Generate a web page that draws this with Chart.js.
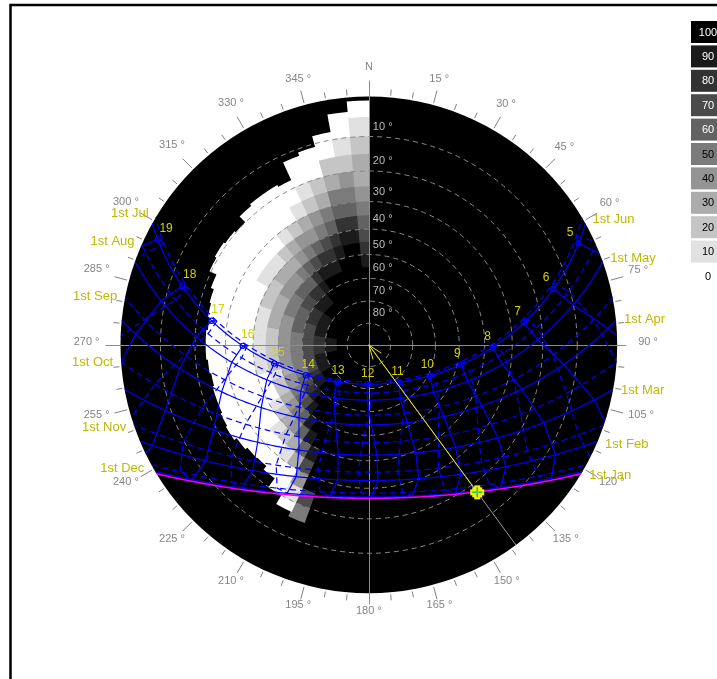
<!DOCTYPE html>
<html>
<head>
<meta charset="utf-8">
<script src="https://cdn.jsdelivr.net/npm/chart.js@4/dist/chart.umd.min.js"></script>
<style>
  html, body { margin: 0; padding: 0; background: #fff; overflow: hidden; }
  canvas { display: block; }
</style>
</head>
<body>
<canvas id="sunpath" width="717" height="679"></canvas>
<script>
// ---- Site and sun-path data ----
const latitude = 40;
const monthLabels = ['1st Jan', '1st Feb', '1st Mar', '1st Apr', '1st May', '1st Jun',
                     '1st Jul', '1st Aug', '1st Sep', '1st Oct', '1st Nov', '1st Dec'];
// solar declination (deg) and equation of time (min) on the 1st of each month
const monthDeclination = [-23.0, -17.3, -7.9, 4.3, 14.9, 22.0, 23.1, 18.1, 8.4, -3.0, -14.3, -21.7];
const monthEquationOfTime = [-3.2, -13.6, -12.5, -4.1, 2.9, 2.2, -3.7, -6.3, -0.2, 10.1, 16.4, 11.0];
const currentDeclination = -23.44;          // today's path (magenta)
const hourMarks = [5, 6, 7, 8, 9, 10, 11, 12, 13, 14, 15, 16, 17, 18, 19];
const sunAzimuth = 143.7;                   // current sun position
const sunAltitude = 17.2;

// ---- Grid ----
const altitudeRings = [10, 20, 30, 40, 50, 60, 70, 80];
const azimuthTickLabels = [15, 30, 45, 60, 75, 90, 105, 120, 135, 150, 165, 180,
                           195, 210, 225, 240, 255, 270, 285, 300, 315, 330, 345];

// ---- Shading legend ----
const legendValues = [100, 90, 80, 70, 60, 50, 40, 30, 20, 10, 0];
const legendColors = ['#000000', '#1b1b1b', '#333333', '#4b4b4b', '#626262', '#7b7b7b',
                      '#949494', '#acacac', '#c5c5c5', '#e1e1e1', '#ffffff'];

// ---- Shading mask: 5 deg azimuth bins, 5 deg altitude bins (0..90) ----
// digit = shading / 10, X = fully shaded; maskFloor = altitude below which all is shaded
const maskAzimuths = [200, 205, 210, 215, 220, 225, 230, 235, 240, 245, 250, 255, 260, 265, 270, 275,
                      280, 285, 290, 295, 300, 305, 310, 315, 320, 325, 330, 335, 340, 345, 350, 355];
const maskFloor = [15.5, 17, 20, 23.5, 25, 24.8, 24, 23, 23.5, 24, 24, 24.5, 24, 23.5, 23.5, 24,
                   23.5, 23, 22, 19.6, 19, 19.5, 20, 17.6, 17, 17, 17.6, 12, 11, 8, 3.5, 1];
const maskRows = [
  'XXX57XXXXXXXXXXXXX',
  'XXX01479XXXXXXXXXX',
  'XXXX00369XXXXXXXXX',
  'XXXX001369XXXXXXXX',
  'XXXXX002469XXXXXXX',
  'XXXX00013579XXXXXX',
  'XXXX000024689XXXXX',
  'XXXX000013579XXXXX',
  'XXXX0000024689XXXX',
  'XXXX0000024579XXXX',
  'XXXX0000013579XXXX',
  'XXXX0000124579XXXX',
  'XXXX00001245789XXX',
  'XXXX00001245789XXX',
  'XXXX00001245789XXX',
  'XXXX00001245789XXX',
  'XXXX0000134679XXXX',
  'XXXX0000134679XXXX',
  'XXXX0000235689XXXX',
  'XXX00000235689XXXX',
  'XXX00001245789XXXX',
  'XXX0000134679XXXXX',
  'XXXX000134689XXXXX',
  'XXX0000235689XXXXX',
  'XXX000134689XXXXXX',
  'XXX00024579XXXXXXX',
  'XXX00134689XXXXXXX',
  'XX001245789XXXXXXX',
  'XX00235689XXXXXXXX',
  'X00235689XXXXXXXXX',
  '001245689XXXXXXXXX',
  '01233456789XXXXXXX'
];

// ---- Layout ----
const W = 717, H = 679;
const CX = 369, CY = 345, RADIUS = 252;     // horizon circle in pixels
const D = Math.PI / 180;
const LABEL_FONT = '11px "Liberation Sans", Arial, sans-serif';
const MONTH_FONT = '13px "Liberation Sans", Arial, sans-serif';
const HOUR_FONT = '12px "Liberation Sans", Arial, sans-serif';

// stereographic sky projection, horizon = 1
function skyPoint(az, alt) {
  const k = Math.tan((90 - alt) / 2 * D);
  return { x: k * Math.sin(az * D), y: k * Math.cos(az * D) };
}
// sun position for declination dec and hour angle ha (deg), projected
function sunPoint(dec, ha) {
  const p = latitude * D, d = dec * D, h = ha * D;
  const e = -Math.cos(d) * Math.sin(h);
  const n = Math.sin(d) * Math.cos(p) - Math.cos(d) * Math.cos(h) * Math.sin(p);
  const u = Math.sin(d) * Math.sin(p) + Math.cos(d) * Math.cos(h) * Math.cos(p);
  return { x: e / (1 + u), y: n / (1 + u), u: u };
}
function dayPath(dec) {
  const pts = [];
  for (let ha = -180; ha <= 180; ha += 1) {
    const s = sunPoint(dec, ha);
    if (s.u > -0.3) pts.push({ x: s.x, y: s.y });
  }
  return pts;
}
function hourPoint(hour, m) {
  const ha = 15 * (hour - 12) + monthEquationOfTime[m] / 4;
  return sunPoint(monthDeclination[m], ha);
}
function hourPath(hour, months) {
  const pts = [];
  months.forEach(m => {
    const s = hourPoint(hour, m);
    if (s.u > -0.8) pts.push({ x: s.x, y: s.y });
  });
  return pts;
}
function lineSet(data, color, dash, width) {
  return { data, showLine: true, borderColor: color, borderWidth: width, borderDash: dash,
           pointRadius: 0, tension: 0, fill: false };
}

const datasets = [];
datasets.push(lineSet(dayPath(currentDeclination), '#f000e8', [], 1.6));
// hour markers on the 1st of June path
const juneIndex = 5;
datasets.push({
  data: hourMarks.map(h => { const s = hourPoint(h, juneIndex); return { x: s.x, y: s.y }; }),
  showLine: false, pointRadius: 2.6, pointStyle: 'circle', borderColor: '#0000ff',
  borderWidth: 1.2, backgroundColor: 'rgba(0,0,0,0)'
});
monthDeclination.forEach((dec, i) => {
  datasets.push(lineSet(dayPath(dec), '#0000ff', i < 6 ? [] : [6, 4], 1.2));
});
hourMarks.forEach(h => {
  datasets.push(lineSet(hourPath(h, [0, 1, 2, 3, 4, 5, 6]), '#0000ff', [], 1.2));
  datasets.push(lineSet(hourPath(h, [6, 7, 8, 9, 10, 11, 0]), '#0000ff', [6, 4], 1.2));
});

function geom(chart) {
  const xs = chart.scales.x, ys = chart.scales.y;
  const cx = xs.getPixelForValue(0), cy = ys.getPixelForValue(0);
  const r = xs.getPixelForValue(1) - cx;
  const px = p => ({ x: xs.getPixelForValue(p.x), y: ys.getPixelForValue(p.y) });
  const rad = alt => xs.getPixelForValue(Math.tan((90 - alt) / 2 * D)) - cx;
  return { cx, cy, r, px, rad };
}
function colorFor(v) {
  return legendColors[legendValues.indexOf(v)];
}

const skyPlugin = {
  id: 'sky',
  beforeDraw(chart) {
    const ctx = chart.ctx;
    const g = geom(chart);
    ctx.save();
    ctx.fillStyle = '#ffffff';
    ctx.fillRect(0, 0, W, H);
    // frame
    ctx.strokeStyle = '#000';
    ctx.lineWidth = 2.5;
    ctx.beginPath();
    ctx.moveTo(10.5, H + 5); ctx.lineTo(10.5, 5); ctx.lineTo(W + 5, 5);
    ctx.stroke();

    // sky disc (fully shaded background)
    ctx.fillStyle = '#000';
    ctx.beginPath(); ctx.arc(g.cx, g.cy, g.r, 0, 2 * Math.PI); ctx.fill();

    // shading mask cells (slightly overlapped so no seams show)
    ctx.save();
    ctx.beginPath(); ctx.arc(g.cx, g.cy, g.r, 0, 2 * Math.PI); ctx.clip();
    const eps = 0.2 * D;
    maskAzimuths.forEach((az0, i) => {
      const row = maskRows[i];
      const a0 = (az0 - 90) * D - eps, a1 = (az0 + 5 - 90) * D + eps;
      for (let j = 0; j < row.length; j++) {
        const ch = row[j];
        if (ch === 'X') continue;
        const lo = Math.max(j * 5, maskFloor[i]), hi = j * 5 + 5;
        if (hi <= lo) continue;
        const rOut = g.rad(lo) + 0.4, rIn = Math.max(0, g.rad(hi) - 0.4);
        ctx.beginPath();
        ctx.arc(g.cx, g.cy, rOut, a0, a1);
        ctx.arc(g.cx, g.cy, rIn, a1, a0, true);
        ctx.closePath();
        ctx.fillStyle = colorFor(parseInt(ch, 10) * 10);
        ctx.fill();
      }
    });
    ctx.restore();

    // altitude rings
    ctx.strokeStyle = '#8a8a8a';
    ctx.lineWidth = 1;
    ctx.setLineDash([5, 4]);
    altitudeRings.forEach(alt => {
      ctx.beginPath(); ctx.arc(g.cx, g.cy, g.rad(alt), 0, 2 * Math.PI); ctx.stroke();
    });
    ctx.setLineDash([]);

    // compass cross
    ctx.strokeStyle = '#8c8c8c';
    ctx.lineWidth = 1;
    ctx.beginPath();
    ctx.moveTo(Math.round(g.cx) + 0.5, g.cy - g.r - 16); ctx.lineTo(Math.round(g.cx) + 0.5, g.cy + g.r + 11);
    ctx.moveTo(g.cx - g.r - 15, Math.round(g.cy) + 0.5); ctx.lineTo(g.cx + g.r + 9, Math.round(g.cy) + 0.5);
    ctx.stroke();

    // azimuth ticks
    ctx.strokeStyle = '#808080';
    for (let az = 5; az < 360; az += 5) {
      if (az % 90 === 0) continue;
      const long = az % 15 === 0;
      const r0 = g.r + 2, r1 = g.r + (long ? 15 : 8);
      const s = Math.sin(az * D), c = Math.cos(az * D);
      ctx.beginPath();
      ctx.moveTo(g.cx + r0 * s, g.cy - r0 * c);
      ctx.lineTo(g.cx + r1 * s, g.cy - r1 * c);
      ctx.stroke();
    }
    // azimuth labels
    ctx.font = LABEL_FONT;
    ctx.fillStyle = '#858585';
    ctx.textAlign = 'center';
    ctx.textBaseline = 'middle';
    azimuthTickLabels.forEach(az => {
      const txt = az + ' °';
      const hw = ctx.measureText(txt).width / 2;
      const s = Math.sin(az * D), c = Math.cos(az * D);
      const rr = g.r + 21 + hw * Math.abs(s);
      ctx.fillText(txt, g.cx + rr * s, g.cy - rr * c - 3);
    });
    ctx.fillText('N', g.cx, g.cy - g.r - 30);

    // altitude labels
    ctx.fillStyle = '#bdbdbd';
    ctx.textAlign = 'left';
    altitudeRings.forEach(alt => {
      ctx.fillText(alt + ' °', g.cx + 4, g.cy - g.rad(alt) - 10);
    });

    // current sun azimuth line
    const hz = g.px(skyPoint(sunAzimuth, 0));
    ctx.strokeStyle = '#9a9a9a';
    ctx.beginPath(); ctx.moveTo(g.cx, g.cy); ctx.lineTo(hz.x, hz.y); ctx.stroke();
    ctx.restore();
  },
  beforeDatasetsDraw(chart) {
    const g = geom(chart);
    chart.ctx.save();
    chart.ctx.beginPath();
    chart.ctx.arc(g.cx, g.cy, g.r, 0, 2 * Math.PI);
    chart.ctx.clip();
  },
  afterDatasetsDraw(chart) {
    const ctx = chart.ctx;
    ctx.restore();
    const g = geom(chart);
    ctx.save();

    // hour labels beside the June markers
    ctx.font = HOUR_FONT;
    ctx.fillStyle = '#d2d200';
    ctx.textAlign = 'center';
    ctx.textBaseline = 'middle';
    hourMarks.forEach(h => {
      const p = g.px(hourPoint(h, juneIndex));
      ctx.fillText(String(h), p.x - 0.04 * (p.x - g.cx), p.y - 11);
    });

    // month labels at sunrise (Jan-Jun) / sunset (Jul-Dec)
    ctx.font = MONTH_FONT;
    ctx.fillStyle = '#bdb800';
    monthDeclination.forEach((dec, i) => {
      const c = Math.sin(dec * D) / Math.cos(latitude * D);
      let az = Math.acos(Math.max(-1, Math.min(1, c))) / D;
      if (i >= 6) az = 360 - az;
      const rr = g.r + 8;
      ctx.textAlign = i < 6 ? 'left' : 'right';
      ctx.fillText(monthLabels[i], g.cx + rr * Math.sin(az * D), g.cy - rr * Math.cos(az * D));
    });

    // arrow from the sun to the zenith
    const sp = g.px(skyPoint(sunAzimuth, sunAltitude));
    ctx.strokeStyle = '#e8e800';
    ctx.lineWidth = 1;
    ctx.beginPath(); ctx.moveTo(sp.x, sp.y); ctx.lineTo(g.cx, g.cy); ctx.stroke();
    const ang = Math.atan2(sp.y - g.cy, sp.x - g.cx);
    ctx.beginPath();
    [-0.35, 0.35].forEach(da => {
      ctx.moveTo(g.cx, g.cy);
      ctx.lineTo(g.cx + 15 * Math.cos(ang + da), g.cy + 15 * Math.sin(ang + da));
    });
    ctx.stroke();

    // sun marker
    ctx.fillStyle = '#f0f000';
    ctx.fillRect(sp.x - 3, sp.y - 7, 6, 14);
    ctx.fillRect(sp.x - 7, sp.y - 3, 14, 6);
    ctx.fillRect(sp.x - 5, sp.y - 5, 10, 10);
    ctx.strokeStyle = '#20c040';
    ctx.lineWidth = 1.5;
    ctx.beginPath();
    ctx.moveTo(sp.x - 5, sp.y); ctx.lineTo(sp.x + 5, sp.y);
    ctx.moveTo(sp.x, sp.y - 5); ctx.lineTo(sp.x, sp.y + 5);
    ctx.stroke();
    ctx.fillStyle = '#40d0d0';
    ctx.fillRect(sp.x - 1, sp.y - 1, 2, 2);

    // shading legend
    ctx.font = LABEL_FONT;
    ctx.textAlign = 'center';
    legendValues.forEach((v, i) => {
      const top = 21 + i * 24.4;
      if (v > 0) {
        ctx.fillStyle = colorFor(v);
        ctx.fillRect(691, top, 40, 22);
      }
      ctx.fillStyle = v >= 60 ? '#ffffff' : '#000000';
      ctx.fillText(String(v), 708, top + 11.5);
    });
    ctx.restore();
  }
};

new Chart(document.getElementById('sunpath'), {
  type: 'scatter',
  data: { datasets },
  options: {
    responsive: false,
    animation: false,
    devicePixelRatio: 1,
    layout: { padding: 0 },
    plugins: { legend: { display: false }, tooltip: { enabled: false }, title: { display: false } },
    scales: {
      x: { type: 'linear', display: false, min: -CX / RADIUS, max: (W - CX) / RADIUS },
      y: { type: 'linear', display: false, min: -(H - CY) / RADIUS, max: CY / RADIUS }
    }
  },
  plugins: [skyPlugin]
});
</script>
</body>
</html>
